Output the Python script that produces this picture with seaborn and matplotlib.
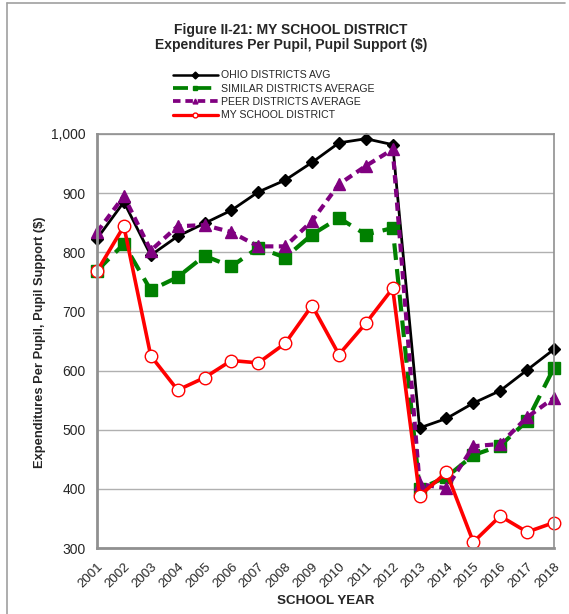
import numpy as np
import pandas as pd
import matplotlib
matplotlib.use("Agg")
import matplotlib.pyplot as plt
from matplotlib.lines import Line2D
import seaborn as sns

years = list(range(2001, 2019))
ohio_avg = [823, 885, 795, 827, 849, 871, 902, 922, 952, 985, 992, 982, 503, 519, 545, 566, 601, 636]
similar_avg = [769, 814, 736, 758, 794, 776, 808, 791, 830, 858, 830, 841, 400, 420, 457, 473, 515, 605]
peer_avg = [834, 895, 803, 844, 846, 834, 810, 810, 853, 915, 946, 974, 408, 401, 472, 476, 521, 554]
my_district = [768, 844, 625, 567, 588, 617, 613, 646, 710, 627, 680, 739, 388, 428, 310, 354, 327, 343]

series_names = ["OHIO DISTRICTS AVG", "SIMILAR DISTRICTS AVERAGE",
                "PEER DISTRICTS AVERAGE", "MY SCHOOL DISTRICT"]
series_values = [ohio_avg, similar_avg, peer_avg, my_district]

sns.set_style("white")
plt.rcParams['font.family'] = ['Liberation Sans', 'DejaVu Sans']

fig = plt.figure(figsize=(5.69, 6.14), dpi=100)
ax = fig.add_axes([97 / 569, 1 - 548 / 614, (554 - 97) / 569, (548 - 134) / 614])

styles = {
    "OHIO DISTRICTS AVG": dict(color="black", lw=2.0, marker="D", ms=6, mfc="black", mec="black", dashes=(None, None)),
    "SIMILAR DISTRICTS AVERAGE": dict(color="#008000", lw=3.0, marker="s", ms=8, mfc="#008000", mec="#008000", dashes=(4, 2.2)),
    "PEER DISTRICTS AVERAGE": dict(color="#800080", lw=3.0, marker="^", ms=9, mfc="#800080", mec="#800080", dashes=(2, 1.3)),
    "MY SCHOOL DISTRICT": dict(color="#ff0000", lw=2.6, marker="o", ms=9, mfc="white", mec="#ff0000", dashes=(None, None)),
}

handles = []
for name, vals in zip(series_names, series_values):
    st = styles[name]
    df = pd.DataFrame({"year": years, "value": vals})
    sns.lineplot(data=df, x="year", y="value", ax=ax, color=st["color"], lw=st["lw"],
                 marker=st["marker"], markersize=st["ms"], markerfacecolor=st["mfc"],
                 markeredgecolor=st["mec"], markeredgewidth=1.0, clip_on=False)
    line = ax.get_lines()[-1]
    if st["dashes"][0] is not None:
        line.set_dashes(st["dashes"])
    handles.append(Line2D([0], [0], color=st["color"], lw=st["lw"] * 0.9,
                          marker=st["marker"], ms=3.5, mfc=st["mfc"], mec=st["mec"],
                          dashes=st["dashes"] if st["dashes"][0] is not None else (None, None)))

ax.set_xlim(2001, 2018)
ax.set_ylim(300, 1000)
ax.set_xticks(years)
ax.set_xticklabels([str(y) for y in years], rotation=45, ha="right", rotation_mode="anchor", fontsize=9.5)
ax.set_yticks(range(300, 1001, 100))
ax.set_yticklabels([f"{v:,}" for v in range(300, 1001, 100)], fontsize=10)
ax.tick_params(axis="both", direction="out", length=4, width=1, color="#888888", pad=4)
ax.tick_params(axis="x", pad=5)
ax.grid(axis="y", color="#b0b0b0", lw=1)
ax.set_axisbelow(True)
for side in ["left", "bottom", "top", "right"]:
    ax.spines[side].set_color("#909090")
    ax.spines[side].set_linewidth(1.2)
ax.spines["left"].set_linewidth(2)
ax.spines["bottom"].set_linewidth(2)

ax.set_xlabel("SCHOOL YEAR", fontsize=9.6, fontweight="bold")
ax.set_ylabel("Expenditures Per Pupil, Pupil Support ($)", fontsize=9.3, fontweight="bold")
ax.xaxis.set_label_coords((326 - 97) / 457, (548 - 601) / 414)
ax.yaxis.set_label_coords((40 - 97) / 457, (548 - 342) / 414)
ax.xaxis.label.set_va("center")
ax.yaxis.label.set_va("center")

fig.text(291 / 569, 1 - 37.5 / 614, "Figure II-21: MY SCHOOL DISTRICT\nExpenditures Per Pupil, Pupil Support ($)",
         ha="center", va="center", fontsize=10, fontweight="bold", linespacing=1.1)

fig.legend(handles, series_names, loc="upper left", bbox_to_anchor=(168 / 569, 1 - 65 / 614),
           frameon=False, fontsize=7.6, handlelength=4.2, handletextpad=0.3, labelspacing=0.32,
           borderpad=0)

# outer frame lines
fig.add_artist(Line2D([7 / 569, 565 / 569], [1 - 3 / 614, 1 - 3 / 614], color="#a0a0a0", lw=1.2))
fig.add_artist(Line2D([7 / 569, 7 / 569], [0, 1 - 3 / 614], color="#a0a0a0", lw=1.2))

fig.savefig("out.png", dpi=100)
